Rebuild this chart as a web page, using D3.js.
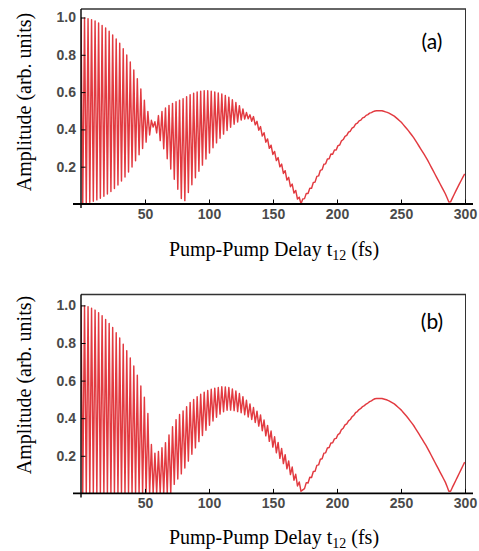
<!DOCTYPE html>
<html>
<head>
<meta charset="utf-8">
<script src="https://cdn.jsdelivr.net/npm/d3@7"></script>
<style>
  body { margin: 0; background: #fff; }
</style>
</head>
<body>
<script>
var W = 479, H = 551;

// pump-pump delay (fs) where the envelopes were read, panel (a)
var tA = [0, 5, 10, 15, 20, 25, 30, 35, 40, 45, 50, 53, 56.5, 60, 65, 70, 75, 80, 85, 90, 95, 100,
  105, 110, 115, 120, 125, 130, 135, 140, 145, 150, 155, 160, 165, 170, 172, 175, 180, 185, 190,
  195, 200, 205, 210, 215, 220, 225, 230, 235, 240, 245, 250, 255, 260, 265, 270, 275, 280, 285,
  288, 290, 295, 300];
// upper / lower envelope of the oscillating amplitude, panel (a)
var hiA = [1.0, 0.995, 0.985, 0.965, 0.94, 0.905, 0.865, 0.81, 0.74, 0.655, 0.545, 0.48, 0.425,
  0.47, 0.51, 0.535, 0.55, 0.565, 0.585, 0.60, 0.607, 0.607, 0.60, 0.59, 0.575, 0.55, 0.52, 0.485,
  0.468, 0.418, 0.358, 0.297, 0.237, 0.172, 0.107, 0.045, 0.012, 0.047, 0.097, 0.157, 0.216, 0.266,
  0.306, 0.353, 0.393, 0.432, 0.462, 0.486, 0.50, 0.50, 0.49, 0.47, 0.44, 0.40, 0.355, 0.30, 0.245,
  0.18, 0.115, 0.05, 0.0, 0.03, 0.10, 0.165];
var loA = [0, 0.005, 0.015, 0.03, 0.05, 0.075, 0.11, 0.15, 0.2, 0.26, 0.32, 0.36, 0.415,
  0.37, 0.29, 0.19, 0.09, 0.0, 0.08, 0.15, 0.21, 0.27, 0.32, 0.365, 0.40, 0.43, 0.45, 0.46,
  0.436, 0.384, 0.324, 0.264, 0.204, 0.14, 0.075, 0.016, 0.0, 0.033, 0.083, 0.143, 0.204, 0.254,
  0.294, 0.347, 0.387, 0.428, 0.458, 0.484, 0.50, 0.50, 0.49, 0.47, 0.44, 0.40, 0.355, 0.30, 0.245,
  0.18, 0.115, 0.05, 0.0, 0.03, 0.10, 0.165];

// panel (b)
var tB = [0, 5, 10, 15, 20, 25, 30, 35, 40, 45, 50, 53, 55, 58, 62, 66, 70, 73, 77, 80, 86, 90,
  95, 100, 105, 110, 115, 120, 125, 130, 135, 140, 145, 150, 155, 160, 165, 170, 173, 175, 180,
  185, 190, 195, 200, 205, 210, 215, 220, 225, 230, 235, 240, 245, 250, 255, 260, 265, 270, 275,
  280, 285, 288, 290, 295, 300];
var hiB = [1.0, 0.995, 0.98, 0.955, 0.92, 0.88, 0.83, 0.77, 0.70, 0.61, 0.50, 0.40, 0.26, 0.21,
  0.23, 0.27, 0.33, 0.38, 0.42, 0.44, 0.49, 0.51, 0.535, 0.55, 0.56, 0.567, 0.565, 0.55, 0.525,
  0.49, 0.455, 0.42, 0.37, 0.315, 0.26, 0.20, 0.14, 0.07, 0.015, 0.047, 0.099, 0.158, 0.217, 0.266,
  0.306, 0.354, 0.394, 0.433, 0.462, 0.486, 0.505, 0.505, 0.495, 0.475, 0.445, 0.405, 0.36, 0.305,
  0.25, 0.185, 0.12, 0.055, 0.0, 0.03, 0.10, 0.17];
var loB = [0, 0, 0, 0, 0, 0, 0, 0, 0, 0, 0, 0, 0, 0, 0, 0, 0, 0.05, 0.09, 0.12, 0.2, 0.25, 0.31,
  0.36, 0.40, 0.43, 0.445, 0.44, 0.43, 0.41, 0.385, 0.35, 0.30, 0.245, 0.19, 0.14, 0.085, 0.03, 0.0,
  0.031, 0.083, 0.144, 0.204, 0.256, 0.298, 0.348, 0.39, 0.43, 0.46, 0.485, 0.505, 0.505, 0.495,
  0.475, 0.445, 0.405, 0.36, 0.305, 0.25, 0.185, 0.12, 0.055, 0.0, 0.03, 0.10, 0.17];

var xTicks = [50, 100, 150, 200, 250, 300];
var yTicks = [0.2, 0.4, 0.6, 0.8, 1.0];
var period = 2.75; // fast oscillation period (fs), counted on the figure
var red = '#e23a40';

var svg = d3.select('body').append('svg')
  .attr('width', W)
  .attr('height', H);

var panels = [
  { t: tA, hi: hiA, lo: loA, label: '(a)', top: 9, y0: 204, y1: 17.5, midY: 102, titleY: 256, labelY: 49 },
  { t: tB, hi: hiB, lo: loB, label: '(b)', top: 294.5, y0: 493.4, y1: 305.4, midY: 385, titleY: 543.5, labelY: 329 }
];

panels.forEach(function (p, i) {
  var g = svg.append('g');
  var x = d3.scaleLinear().domain([0, 300]).range([81, 465]);
  var y = d3.scaleLinear().domain([0, 1]).range([p.y0, p.y1]);

  // envelopes as piecewise linear scales through the read points
  var hi = d3.scaleLinear().domain(p.t).range(p.hi);
  var lo = d3.scaleLinear().domain(p.t).range(p.lo);

  var half = period / 2;
  var pts = d3.range(0, Math.floor(300 / half) + 1).map(function (k) {
    var t = k * half;
    return [t, k % 2 ? lo(t) : hi(t)];
  });

  svg.append('clipPath').attr('id', 'clip' + i)
    .append('rect')
    .attr('x', 81).attr('y', p.top)
    .attr('width', 385).attr('height', p.y0 - p.top);

  var line = d3.line()
    .x(function (d) { return x(d[0]); })
    .y(function (d) { return y(d[1]); });

  g.append('path')
    .datum(pts)
    .attr('d', line)
    .attr('fill', 'none')
    .attr('stroke', red)
    .attr('stroke-width', 1.45)
    .attr('stroke-linejoin', 'round')
    .attr('clip-path', 'url(#clip' + i + ')');

  // frame
  g.append('line')
    .attr('x1', 81).attr('x2', 466)
    .attr('y1', p.top).attr('y2', p.top)
    .attr('stroke', '#333').attr('stroke-width', 1.3);
  g.append('line')
    .attr('x1', 465.5).attr('x2', 465.5)
    .attr('y1', p.top).attr('y2', p.y0)
    .attr('stroke', '#333').attr('stroke-width', 1);

  // x axis, ticks pointing inward
  var gx = g.append('g').attr('transform', 'translate(0,' + p.y0 + ')');
  gx.call(d3.axisBottom(x)
    .tickValues(d3.range(10, 300, 10).filter(function (v) { return v % 50; }))
    .tickSize(-2.5).tickFormat(''));
  gx.call(d3.axisBottom(x).tickValues(xTicks).tickSize(-4.5).tickPadding(5));

  // y axis
  var gy = g.append('g').attr('transform', 'translate(81,0)');
  gy.call(d3.axisLeft(y)
    .tickValues(d3.range(1, 21).map(function (k) { return k / 20; })
      .filter(function (v) { return Math.round(v * 100) % 20; }))
    .tickSize(-2.5).tickFormat(''));
  gy.call(d3.axisLeft(y).tickValues(yTicks).tickSize(-4.5).tickPadding(5).tickFormat(d3.format('.1f')));

  g.selectAll('.domain').remove();
  g.selectAll('.tick line').attr('stroke', '#000');
  g.selectAll('.tick text')
    .attr('fill', '#4a4a4a')
    .style('font-family', '"Liberation Sans", Arial, sans-serif')
    .style('font-size', '14px')
    .style('font-weight', 'bold');

  // axis lines
  g.append('line')
    .attr('x1', 73).attr('x2', 473)
    .attr('y1', p.y0).attr('y2', p.y0)
    .attr('stroke', '#000').attr('stroke-width', 1.8);
  g.append('line')
    .attr('x1', 81).attr('x2', 81)
    .attr('y1', p.top).attr('y2', p.y0 + 4)
    .attr('stroke', '#000').attr('stroke-width', 1.4);

  // titles
  g.append('text')
    .attr('transform', 'translate(31,' + p.midY + ') rotate(-90)')
    .attr('text-anchor', 'middle')
    .style('font-family', '"Liberation Serif", "Times New Roman", serif')
    .style('font-size', '20px')
    .text('Amplitude (arb. units)');

  var xt = g.append('text')
    .attr('x', 274).attr('y', p.titleY)
    .attr('text-anchor', 'middle')
    .style('font-family', '"Liberation Serif", "Times New Roman", serif')
    .style('font-size', '20px');
  xt.append('tspan').text('Pump-Pump Delay t');
  xt.append('tspan').attr('dy', 4).style('font-size', '14px').text('12');
  xt.append('tspan').attr('dy', -4).text(' (fs)');

  g.append('text')
    .attr('x', 432).attr('y', p.labelY)
    .attr('text-anchor', 'middle')
    .style('font-family', 'Lato, "Open Sans", sans-serif')
    .style('font-size', '21px')
    .text(p.label);
});
</script>
</body>
</html>
